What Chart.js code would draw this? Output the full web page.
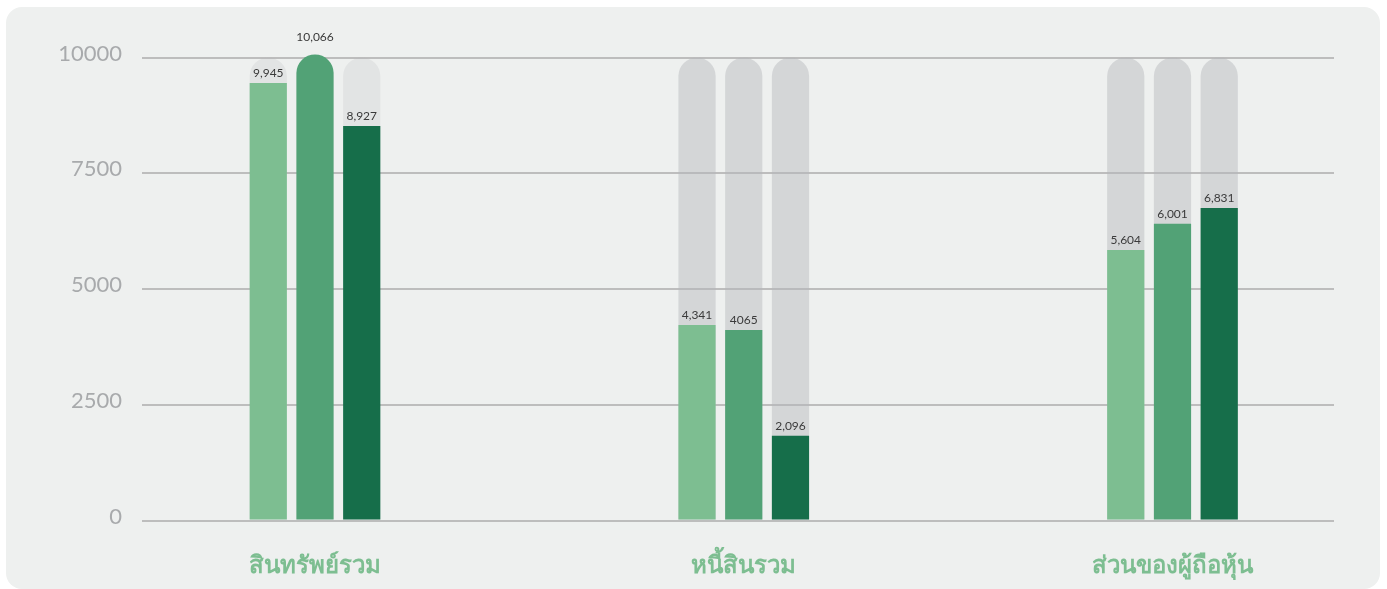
<!DOCTYPE html>
<html lang="th">
<head>
<meta charset="utf-8">
<title>Financial position</title>
<script src="https://cdn.jsdelivr.net/npm/chart.js@4.4.1/dist/chart.umd.min.js"></script>
<style>
    html, body { margin: 0; padding: 0; background: #ffffff; }
    #panel {
        position: absolute; left: 6px; top: 7px; width: 1374px; height: 582px;
        background: #eef0ef; border-radius: 16px;
    }
    #wrap { position: absolute; left: 0; top: 0; width: 1387px; height: 589px; }
</style>
</head>
<body>
<div id="panel"></div>
<div id="wrap"><canvas id="chart"></canvas></div>
<script>
const categories = ['สินทรัพย์รวม', 'หนี้สินรวม', 'ส่วนของผู้ถือหุ้น'];
const yTicks = [0, 2500, 5000, 7500, 10000];

// bar heights as drawn in the picture
const seriesA = [9449, 4222, 5842];
const seriesB = [10066, 4114, 6410];
const seriesC = [8521, 1832, 6749];
// printed value labels
const labelsA = ['9,945', '4,341', '5,604'];
const labelsB = ['10,066', '4065', '6,001'];
const labelsC = ['8,927', '2,096', '6,831'];
// grey track behind each bar
const trackValues = [10000, 10000, 10000];

const GREENS = ['#7dbe91', '#52a276', '#166e4a'];
const TRACK = ['rgba(180,182,187,0.2)', 'rgba(180,182,187,0.45)', 'rgba(180,182,187,0.45)'];

const toPoints = arr => arr.map((y, x) => ({ x, y }));

// ── value labels above the green bars ──────────────────────
const valueLabels = {
    id: 'valueLabels',
    afterDatasetsDraw(chart) {
        const ctx = chart.ctx;
        ctx.save();
        ctx.font = '12px Lato, "Open Sans", sans-serif';
        ctx.fillStyle = '#3a3a3a';
        ctx.textAlign = 'center';
        ctx.textBaseline = 'bottom';
        chart.data.datasets.forEach((ds, di) => {
            if (!ds.valueText) return;
            chart.getDatasetMeta(di).data.forEach((bar, i) => {
                const lift = (ds.roundFirst && i === 0) ? 11 : 4;
                ctx.fillText(ds.valueText[i], bar.x, bar.y - lift);
            });
        });
        ctx.restore();
    }
};

const greenSet = (data, labels, color, stack, roundFirst) => ({
    data: toPoints(data),
    valueText: labels,
    roundFirst,
    backgroundColor: color,
    borderRadius: ctx => (roundFirst && ctx.dataIndex === 0) ? 19 : 0,
    borderSkipped: 'start',
    stack,
    order: 1,
    clip: false,
    categoryPercentage: 0.327,
    barPercentage: 0.796
});

const trackSet = stack => ({
    data: toPoints(trackValues),
    backgroundColor: TRACK,
    borderRadius: 19,
    borderSkipped: 'start',
    stack,
    order: 2,
    categoryPercentage: 0.327,
    barPercentage: 0.796
});

new Chart(document.getElementById('chart').getContext('2d'), {
    type: 'bar',
    data: {
        datasets: [
            greenSet(seriesA, labelsA, GREENS[0], 's0', false),
            greenSet(seriesB, labelsB, GREENS[1], 's1', true),
            greenSet(seriesC, labelsC, GREENS[2], 's2', false),
            trackSet('s0'),
            trackSet('s1'),
            trackSet('s2')
        ]
    },
    options: {
        responsive: true,
        maintainAspectRatio: false,
        animation: false,
        layout: { padding: { left: 0, right: 53, top: 57.5, bottom: 0 } },
        plugins: {
            legend: { display: false },
            tooltip: { enabled: false }
        },
        scales: {
            x: {
                type: 'linear',
                offset: false,
                min: -0.4035,
                max: 2.3767,
                afterBuildTicks: axis => { axis.ticks = categories.map((c, i) => ({ value: i })); },
                afterFit: axis => { axis.height = 68.5; },
                grid: { display: false },
                border: { display: false },
                ticks: {
                    autoSkip: false,
                    maxRotation: 0,
                    padding: 23,
                    color: '#7dbe91',
                    font: { size: 24, weight: 'bold', family: '"Noto Sans", Lato, sans-serif' },
                    callback: v => categories[v]
                }
            },
            y: {
                min: 0,
                max: 10000,
                stacked: false,
                afterBuildTicks: axis => { axis.ticks = yTicks.map(v => ({ value: v })); },
                afterFit: axis => { axis.width = 142; },
                grid: { color: '#bdbdbd', lineWidth: 2, drawTicks: false },
                border: { display: false },
                ticks: {
                    padding: 20,
                    labelOffset: -4,
                    color: '#a8aaac',
                    font: { size: 22, family: 'Lato, "Open Sans", sans-serif' },
                    callback: v => String(v)
                }
            }
        }
    },
    plugins: [valueLabels]
});
</script>
</body>
</html>
